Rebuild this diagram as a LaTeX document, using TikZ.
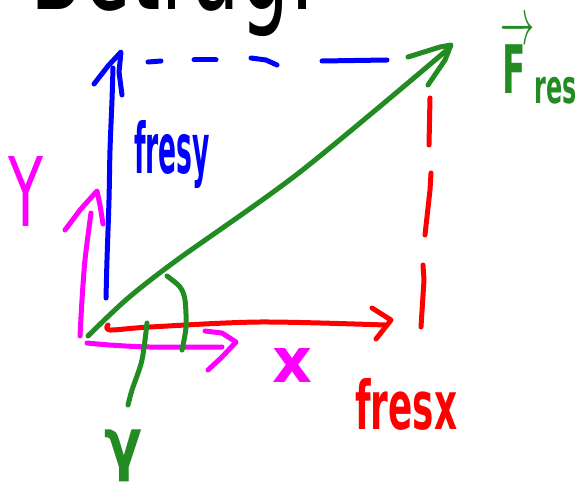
\documentclass[tikz,border=0pt]{standalone}
\usepackage{fontspec}
\usepackage{amsmath}
\usepackage{graphicx}
\setmainfont{DejaVu Sans}
\definecolor{pgreen}{RGB}{34,139,34}
\definecolor{pblue}{RGB}{0,0,255}
\definecolor{pmag}{RGB}{255,0,255}
\definecolor{pred}{RGB}{255,0,0}
\tikzset{
  pen/.style={line width=5pt, line cap=round, line join=round},
  lbl/.style={inner sep=0pt, anchor=north west, font=\bfseries},
  thinlbl/.style={inner sep=0pt, anchor=north west},
}
\begin{document}
\begin{tikzpicture}[x=1pt,y=-1pt]
\clip (0,0) rectangle (581,484);
\fill[white] (0,0) rectangle (581,484);

% cut-off title
\node[inner sep=0pt, anchor=base west] (title) at (30,10) {\resizebox{285pt}{95pt}{Betrag:}};

% blue vertical component (dashed top)
\coordinate (by0) at (106,298);
\coordinate (by1) at (113,68);
\draw[pen, pblue] plot[smooth] coordinates {(by0) (107,260) (109,200) (110,150) (112,100) (by1)};
\draw[pen, pblue] (94,84) -- (108,66) -- (121,52) -- (119,72) -- (122,95);
\draw[pen, pblue] (148,62) -- (161,61);
\draw[pen, pblue] (194,60) -- (216,60);
\draw[pen, pblue] (251,58) -- (266,60) -- (277,65);
\draw[pen, pblue] (322,61) -- (387,60);

% magenta axes
\coordinate (o) at (80,336);
\draw[pen, pmag] plot[smooth] coordinates {(o) (82,300) (85,260) (91,213)};
\draw[pen, pmag] (65,230) -- (80,210) -- (97,191) -- (100,205) -- (103,224);
\draw[pen, pmag] plot[smooth] coordinates {(87,343) (110,345) (150,347) (222,347)};
\draw[pen, pmag] (205,331) -- (222,333) -- (236,342) -- (222,357) -- (208,370);

% red horizontal component
\draw[pen, pred] plot[smooth] coordinates {(108,325) (110,330) (150,327) (260,322) (385,325)};
\draw[pen, pred] (372,308) -- (391,320) -- (376,339);
\draw[pen, pred] (430,98) -- (429,145);
\draw[pen, pred] (431,173) -- (430,190) -- (425,235);
\draw[pen, pred] (423,265) -- (424,280) -- (421,327);

% green resultant
\draw[pen, pgreen] plot[smooth] coordinates {(88,336) (127,299) (177,260) (300,172) (447,50)};
\draw[pen, pgreen] (408,57) -- (440,47) -- (451,45) -- (445,60) -- (428,85);
\draw[pen, pgreen] plot[smooth] coordinates {(167,276) (180,287) (185,300) (186,327) (182,350)};
\draw[pen, pgreen] plot[smooth] coordinates {(147,323) (142,360) (132,390) (128,405)};

% labels
\node[lbl, text=pblue] (fresy) at (134,120) {\resizebox*{76pt}{68pt}{fresy}};
\node[lbl, text=pred] (fresx) at (355,378) {\resizebox*{102pt}{52pt}{fresx}};
\node[thinlbl, text=pmag] (ylab) at (8,156) {\resizebox*{35pt}{70pt}{Y}};
\node[lbl, text=pmag] (xlab) at (272,348) {\resizebox*{40pt}{34pt}{x}};
\node[lbl, text=pgreen] (gam) at (104,430) {\resizebox*{38pt}{52pt}{γ}};
\node[lbl, text=pgreen] (fres) at (500,20) {\resizebox*{78pt}{84pt}{$\overrightarrow{\text{F}\,}_{\text{res}}$}};
\end{tikzpicture}
\end{document}
